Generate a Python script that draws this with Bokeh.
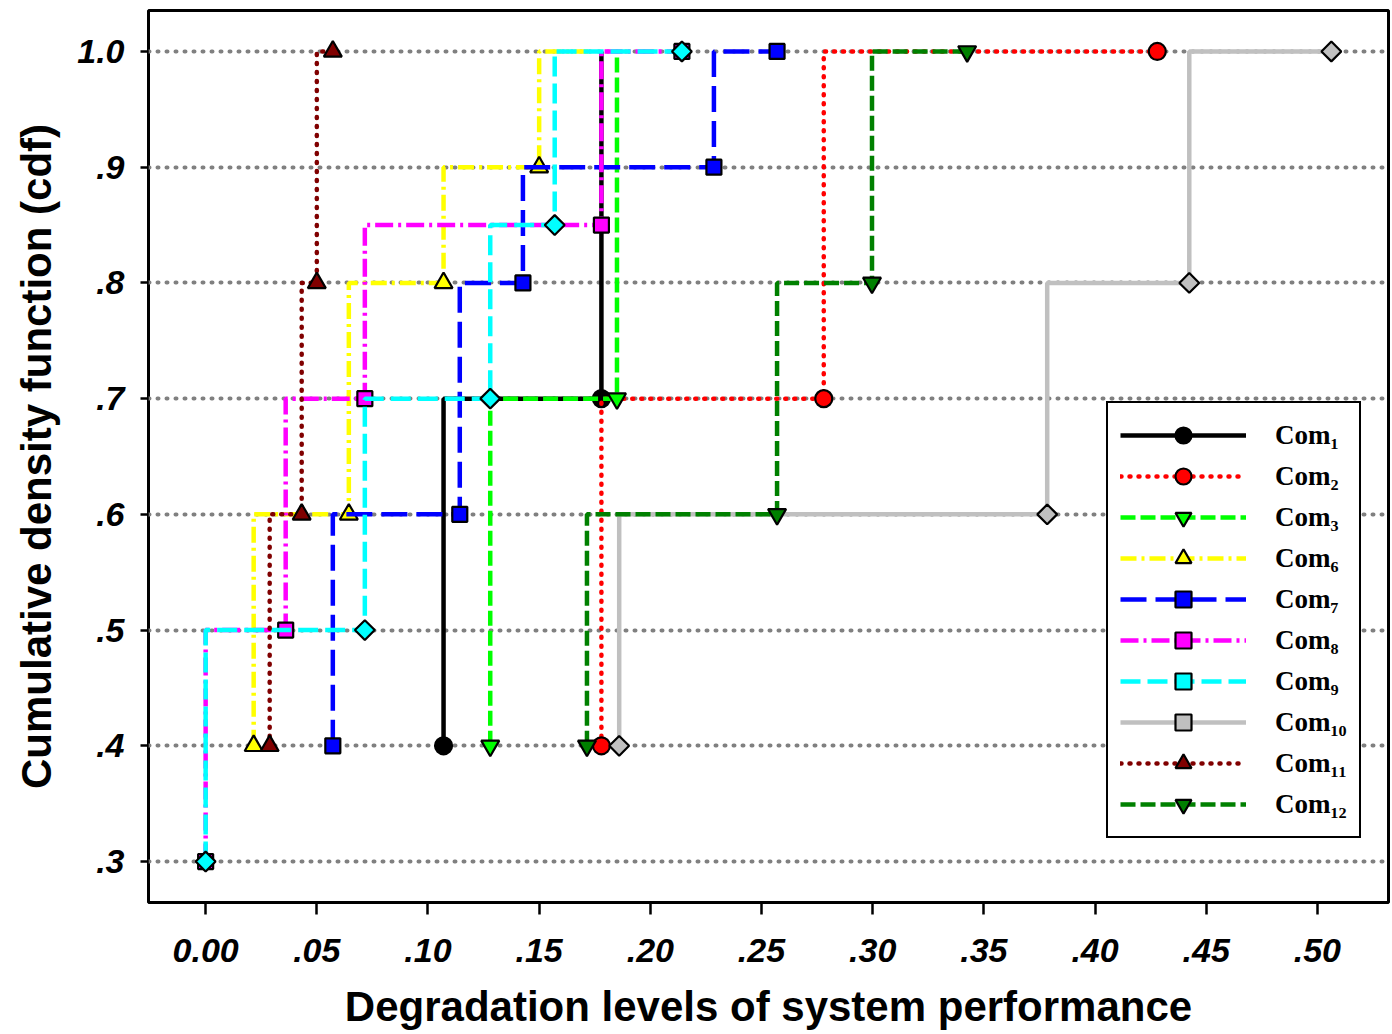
from bokeh.plotting import figure
from bokeh.models import Range1d, FixedTicker, CustomJSTickFormatter, Legend, LegendItem
from bokeh.embed import file_html
from bokeh.resources import INLINE

# ---------------- data ----------------
x_ticks = [0.0, 0.05, 0.10, 0.15, 0.20, 0.25, 0.30, 0.35, 0.40, 0.45, 0.50]
x_tick_labels = ["0.00", ".05", ".10", ".15", ".20", ".25", ".30", ".35", ".40", ".45", ".50"]
y_ticks = [0.3, 0.4, 0.5, 0.6, 0.7, 0.8, 0.9, 1.0]
y_tick_labels = [".3", ".4", ".5", ".6", ".7", ".8", ".9", "1.0"]

series_names = ["Com\u2081", "Com\u2082", "Com\u2083", "Com\u2086", "Com\u2087",
                "Com\u2088", "Com\u2089", "Com\u2081\u2080", "Com\u2081\u2081", "Com\u2081\u2082"]

com1_x = [0.107, 0.178, 0.178]
com1_y = [0.4, 0.7, 1.0]
com2_x = [0.178, 0.278, 0.428]
com2_y = [0.4, 0.7, 1.0]
com3_x = [0.128, 0.185, 0.185]
com3_y = [0.4, 0.7, 1.0]
com6_x = [0.0216, 0.0644, 0.107, 0.150, 0.172]
com6_y = [0.4, 0.6, 0.8, 0.9, 1.0]
com7_x = [0.0572, 0.1143, 0.1427, 0.2286, 0.257]
com7_y = [0.4, 0.6, 0.8, 0.9, 1.0]
com8_x = [0.0, 0.036, 0.0716, 0.178, 0.2142]
com8_y = [0.3, 0.5, 0.7, 0.85, 1.0]
com9_x = [0.0, 0.0716, 0.128, 0.157, 0.2142]
com9_y = [0.3, 0.5, 0.7, 0.85, 1.0]
com10_x = [0.186, 0.3785, 0.4424, 0.5063]
com10_y = [0.4, 0.6, 0.8, 1.0]
com11_x = [0.0288, 0.0432, 0.050, 0.0572]
com11_y = [0.4, 0.6, 0.8, 1.0]
com12_x = [0.1715, 0.257, 0.2997, 0.3425]
com12_y = [0.4, 0.6, 0.8, 1.0]

# whether the final (cdf = 1.0) point carries a visible marker
top_marker = [False, True, False, False, True, True, True, True, True, True]

# ---------------- styles ----------------
styles = [
    dict(color="black", dash="solid", width=4.5, cap="butt", marker="circle", size=17, angle=0),
    dict(color="#ff0000", dash="1 8", width=4.5, cap="round", marker="circle", size=17, angle=0),
    dict(color="#00ff00", dash="15 5", width=4.5, cap="butt", marker="inverted_triangle", size=18, angle=0),
    dict(color="#ffff00", dash="16 5 3 5", width=4.5, cap="butt", marker="triangle", size=18, angle=0),
    dict(color="#0000ff", dash="26 9", width=4.5, cap="butt", marker="square", size=15, angle=0),
    dict(color="#ff00ff", dash="18 5 3 5", width=4.5, cap="butt", marker="square", size=15, angle=0),
    dict(color="#00ffff", dash="20 7", width=4.5, cap="butt", marker="square", size=14, angle=0.785398),
    dict(color="#c0c0c0", dash="solid", width=4.5, cap="butt", marker="square", size=14, angle=0.785398),
    dict(color="#800000", dash="1 8", width=4.5, cap="round", marker="triangle", size=18, angle=0),
    dict(color="#008000", dash="15 5", width=4.5, cap="butt", marker="inverted_triangle", size=18, angle=0),
]

xs = [com1_x, com2_x, com3_x, com6_x, com7_x, com8_x, com9_x, com10_x, com11_x, com12_x]
ys = [com1_y, com2_y, com3_y, com6_y, com7_y, com8_y, com9_y, com10_y, com11_y, com12_y]

p = figure(width=1392, height=1034, output_backend="svg", toolbar_location=None,
           x_range=Range1d(-0.0257, 0.532), y_range=Range1d(0.2646, 1.0354),
           min_border_left=148, min_border_right=4, min_border_top=10, min_border_bottom=132)

p.background_fill_color = "white"
p.border_fill_color = "white"
p.outline_line_color = "black"
p.outline_line_width = 3
p.outline_line_alpha = 1.0

p.xgrid.visible = False
p.ygrid.ticker = FixedTicker(ticks=y_ticks)
p.ygrid.grid_line_color = "#808080"
p.ygrid.grid_line_width = 4
p.ygrid.grid_line_dash = "1 8"
p.ygrid.grid_line_cap = "round"

fmt_code = """
let k = -1;
for (let j = 0; j < tv.length; j++) { if (Math.abs(tv[j] - tick) < 1e-6) { k = j; } }
return k >= 0 ? tl[k] : "";
"""
p.xaxis.ticker = FixedTicker(ticks=x_ticks)
p.yaxis.ticker = FixedTicker(ticks=y_ticks)
p.xaxis.formatter = CustomJSTickFormatter(args=dict(tv=x_ticks, tl=x_tick_labels), code=fmt_code)
p.yaxis.formatter = CustomJSTickFormatter(args=dict(tv=y_ticks, tl=y_tick_labels), code=fmt_code)

for ax in (p.xaxis[0], p.yaxis[0]):
    ax.axis_line_color = None
    ax.major_tick_line_color = "black"
    ax.major_tick_line_width = 2.5
    ax.major_tick_in = 0
    ax.minor_tick_line_color = None
    ax.major_label_text_font = "Liberation Sans"
    ax.major_label_text_font_style = "bold italic"
    ax.major_label_text_font_size = "34px"
    ax.major_label_text_color = "black"
    ax.axis_label_text_font = "Liberation Sans"
    ax.axis_label_text_font_style = "bold"
    ax.axis_label_text_color = "black"

p.xaxis.major_tick_out = 12
p.yaxis.major_tick_out = 8
p.xaxis.major_label_standoff = 24
p.yaxis.major_label_standoff = 16
p.xaxis.axis_label = "Degradation levels of system performance"
p.yaxis.axis_label = "Cumulative density function (cdf)"
p.xaxis.axis_label_text_font_size = "42px"
p.yaxis.axis_label_text_font_size = "42px"
p.xaxis.axis_label_standoff = 18
p.yaxis.axis_label_standoff = 14

items = []
for name, x, y, st, tm in zip(series_names, xs, ys, styles, top_marker):
    lr = p.step(x, y, mode="before", line_color=st["color"], line_width=st["width"],
                line_dash=st["dash"], line_cap=st["cap"])
    mx = x if tm else x[:-1]
    my = y if tm else y[:-1]
    mr = p.scatter(mx, my, marker=st["marker"], size=st["size"], angle=st["angle"],
                   fill_color=st["color"], line_color="black", line_width=2.2)
    items.append(LegendItem(label=name, renderers=[lr, mr]))

legend = Legend(items=items, location=(958, 64))
legend.glyph_width = 126
legend.glyph_height = 40
legend.spacing = 1
legend.padding = 12
legend.margin = 0
legend.label_standoff = 29
legend.label_text_font = "Liberation Serif"
legend.label_text_font_style = "bold"
legend.label_text_font_size = "27px"
legend.label_text_color = "black"
legend.border_line_color = "black"
legend.border_line_alpha = 1.0
legend.border_line_width = 2.5
legend.background_fill_color = "white"
legend.background_fill_alpha = 1.0
p.add_layout(legend)

open("out.html", "w").write(file_html(p, INLINE))
